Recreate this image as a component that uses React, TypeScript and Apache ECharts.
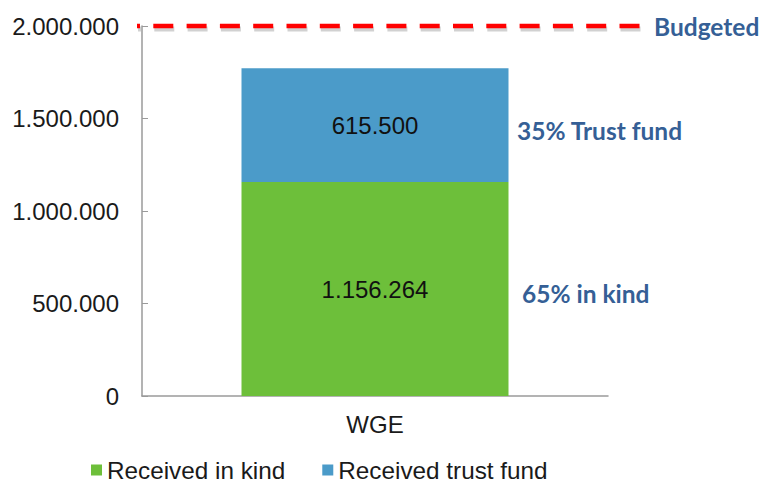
import React, { useEffect, useRef } from "react";
import * as echarts from "echarts";

const categories = ["WGE"];
const receivedInKind = [1156264];
const receivedTrustFund = [615500];
const budgetedValue = 2000000;
const budgetLine = [budgetedValue, budgetedValue];
const budgetLineCats = ["start", "end"];
const yMin = 0;
const yMax = 2000000;
const yInterval = 500000;

const fmt = (v: number) =>
  String(Math.round(v)).replace(/\B(?=(\d{3})+(?!\d))/g, ".");

const GREEN = "#6dbf3a";
const BLUE = "#4b9bc9";
const NAVY = "#355f96";
const AXIS = "#9a9a9a";
const SANS = "'Liberation Sans', Arial, sans-serif";
const BOLD = "Lato, 'Open Sans', sans-serif";
const DASH = [20, 13.3];

export default function App() {
  const ref = useRef<HTMLDivElement>(null);
  useEffect(() => {
    if (!ref.current) return;
    const chart = echarts.init(ref.current, null, { renderer: "svg" });
    const total = receivedInKind[0] + receivedTrustFund[0];
    const pctKind = Math.round((receivedInKind[0] / total) * 100);
    const pctTrust = Math.round((receivedTrustFund[0] / total) * 100);
    const boldLabel = {
      color: NAVY,
      fontSize: 24.5,
      fontWeight: "bold",
      fontFamily: BOLD,
    };
    chart.setOption({
      animation: false,
      backgroundColor: "#ffffff",
      grid: [
        { left: 142, right: 156, top: 26, bottom: 88, containLabel: false },
        { left: 137, right: 121, top: 26, bottom: 88, containLabel: false },
        { left: 138, right: 120, top: 29, bottom: 85, containLabel: false },
      ],
      xAxis: [
        {
          type: "category",
          gridIndex: 0,
          data: categories,
          axisLine: { lineStyle: { color: AXIS, width: 1.5 } },
          axisTick: { show: false },
          axisLabel: { color: "#1a1a1a", fontSize: 24, fontFamily: SANS, margin: 16 },
        },
        { type: "category", gridIndex: 1, data: budgetLineCats, boundaryGap: false, show: false },
        { type: "category", gridIndex: 2, data: budgetLineCats, boundaryGap: false, show: false },
      ],
      yAxis: [
        {
          type: "value",
          gridIndex: 0,
          min: yMin,
          max: yMax,
          interval: yInterval,
          splitLine: { show: false },
          axisLine: { show: true, lineStyle: { color: AXIS, width: 1.5 } },
          axisTick: { show: true, inside: true, length: 6, lineStyle: { color: AXIS, width: 1 } },
          axisLabel: {
            color: "#1a1a1a",
            fontSize: 24,
            fontFamily: SANS,
            margin: 23,
            formatter: (v: number) => fmt(v),
          },
        },
        { type: "value", gridIndex: 1, min: yMin, max: yMax, show: false },
        { type: "value", gridIndex: 2, min: yMin, max: yMax, show: false },
      ],
      legend: {
        left: 91,
        top: 458,
        padding: 0,
        itemWidth: 11,
        itemHeight: 11,
        itemGap: 37,
        icon: "rect",
        textStyle: { color: "#1a1a1a", fontSize: 24.3, fontFamily: SANS, lineHeight: 20 },
        data: ["Received in kind", "Received trust fund"],
      },
      series: [
        {
          name: "Received in kind",
          type: "bar",
          stack: "total",
          xAxisIndex: 0,
          yAxisIndex: 0,
          data: receivedInKind,
          barWidth: 267,
          itemStyle: { color: GREEN },
          label: {
            show: true,
            position: "inside",
            color: "#111",
            fontSize: 24,
            fontFamily: SANS,
            formatter: (p: any) => fmt(p.value),
          },
          markPoint: {
            symbol: "circle",
            symbolSize: 0,
            data: [{ coord: [categories[0], receivedInKind[0] / 2], value: pctKind }],
            label: {
              show: true,
              position: "right",
              distance: 147,
              offset: [0, 4],
              ...boldLabel,
              formatter: () => `${pctKind}% in kind`,
            },
          },
        },
        {
          name: "Received trust fund",
          type: "bar",
          stack: "total",
          xAxisIndex: 0,
          yAxisIndex: 0,
          data: receivedTrustFund,
          barWidth: 267,
          itemStyle: { color: BLUE },
          label: {
            show: true,
            position: "inside",
            color: "#111",
            fontSize: 24,
            fontFamily: SANS,
            formatter: (p: any) => fmt(p.value),
          },
          markPoint: {
            symbol: "circle",
            symbolSize: 0,
            data: [
              {
                coord: [categories[0], receivedInKind[0] + receivedTrustFund[0] / 2],
                value: pctTrust,
              },
            ],
            label: {
              show: true,
              position: "right",
              distance: 142,
              offset: [0, 5],
              ...boldLabel,
              formatter: () => `${pctTrust}% Trust fund`,
            },
          },
        },
        {
          name: "Budgeted shadow",
          type: "line",
          xAxisIndex: 2,
          yAxisIndex: 2,
          data: budgetLine,
          symbol: "none",
          clip: false,
          silent: true,
          z: 4,
          lineStyle: {
            color: "rgba(0,0,0,0.18)",
            width: 5,
            type: DASH,
            dashOffset: 17,
          },
        },
        {
          name: "Budgeted",
          type: "line",
          xAxisIndex: 1,
          yAxisIndex: 1,
          data: budgetLine,
          symbol: "none",
          clip: false,
          z: 5,
          lineStyle: {
            color: "#ff0000",
            width: 4.5,
            type: DASH,
            dashOffset: 17,
          },
          endLabel: {
            show: true,
            distance: 11,
            ...boldLabel,
            formatter: () => "Budgeted",
          },
        },
      ],
    });
    return () => chart.dispose();
  }, []);
  return <div ref={ref} style={{ width: 764, height: 484, position: "absolute", left: 0, top: 0 }} />;
}
